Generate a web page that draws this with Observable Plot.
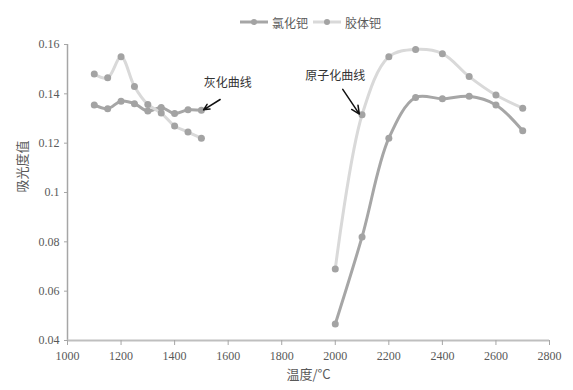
<!DOCTYPE html>
<html><head><meta charset="utf-8">
<script src="https://cdn.jsdelivr.net/npm/d3@7"></script>
<script src="https://cdn.jsdelivr.net/npm/@observablehq/plot@0.6"></script>
<style>
body{margin:0;background:#fff;font-family:"Liberation Serif","Noto Sans CJK SC",serif;}
#wrap{width:573px;position:relative;}
#legend{height:30px;position:relative;}
.item{position:absolute;top:15px;height:14px;display:flex;align-items:center;font-size:12px;color:#595959;font-family:"Noto Sans CJK SC",sans-serif;}
.item svg{margin-right:4px;}
</style></head><body>
<div id="wrap"><div id="legend"></div><div id="chart"></div></div>
<script>
const seriesNames = ["氯化钯", "胶体钯"];
const seriesColors = ["#a6a6a6", "#d9d9d9"];
const markerColor = "#a3a3a3";
const ashTemps = [1100, 1150, 1200, 1250, 1300, 1350, 1400, 1450, 1500];
const ashPdCl2 = [0.1355, 0.134, 0.137, 0.136, 0.133, 0.1345, 0.132, 0.1335, 0.1333];
const ashColloid = [0.148, 0.1465, 0.155, 0.143, 0.1357, 0.1322, 0.127, 0.1245, 0.122];
const atomTemps = [2000, 2100, 2200, 2300, 2400, 2500, 2600, 2700];
const atomPdCl2 = [0.0467, 0.082, 0.122, 0.1385, 0.138, 0.139, 0.1355, 0.125];
const atomColloid = [0.069, 0.1315, 0.155, 0.158, 0.1563, 0.147, 0.1395, 0.1342];
const xTicks = [1000, 1200, 1400, 1600, 1800, 2000, 2200, 2400, 2600, 2800];
const yTicks = [0.04, 0.06, 0.08, 0.1, 0.12, 0.14, 0.16];
const annotations = [
  {text: "灰化曲线", x: 1598, y: 0.1442, x1: 1570, y1: 0.1377, x2: 1508, y2: 0.1335},
  {text: "原子化曲线", x: 2000, y: 0.147, x1: 2028, y1: 0.1418, x2: 2090, y2: 0.1318}
];

const rows = [];
function add(temps, vals, series, seg) {
  temps.forEach((t, i) => rows.push({x: t, y: vals[i], series, seg: series + seg}));
}
add(ashTemps, ashPdCl2, seriesNames[0], "a");
add(atomTemps, atomPdCl2, seriesNames[0], "b");
add(ashTemps, ashColloid, seriesNames[1], "a");
add(atomTemps, atomColloid, seriesNames[1], "b");

// legend
const legend = document.getElementById("legend");
const lefts = [240, 313];
seriesNames.forEach((n, i) => {
  const d = document.createElement("div");
  d.className = "item";
  d.style.left = lefts[i] + "px";
  d.innerHTML = `<svg width="28" height="10"><line x1="0" y1="5" x2="28" y2="5" stroke="${seriesColors[i]}" stroke-width="3"/><circle cx="14" cy="5" r="3" fill="${markerColor}"/></svg><span>${n}</span>`;
  legend.appendChild(d);
});

const fmt = d => String(+d.toFixed(2));
const chart = Plot.plot({
  width: 573,
  height: 360,
  marginTop: 14,
  marginBottom: 50,
  marginLeft: 67,
  marginRight: 24,
  style: {fontFamily: "'Liberation Serif','Noto Sans CJK SC',serif", fontSize: "12px", color: "#595959", background: "#fff"},
  x: {domain: [1000, 2800], ticks: xTicks, tickFormat: d => String(d), tickSize: 5, tickPadding: 5, label: null},
  y: {domain: [0.04, 0.16], ticks: yTicks, tickFormat: fmt, tickSize: 3, tickPadding: 5, label: null},
  marks: [
    Plot.ruleX([1000], {stroke: "#a6a6a6", strokeWidth: 1.5}),
    Plot.ruleY([0.04], {stroke: "#bfbfbf", strokeWidth: 2}),
    Plot.axisX({ticks: xTicks, tickFormat: d => String(d), tickSize: 5, tickPadding: 6, stroke: "#a6a6a6", fill: "#595959", label: null}),
    Plot.axisY({ticks: yTicks, tickFormat: fmt, tickSize: 3, tickPadding: 5, stroke: "#a6a6a6", fill: "#595959", label: null}),
    Plot.line(rows.filter(r => r.series === seriesNames[0]), {x: "x", y: "y", z: "seg", stroke: seriesColors[0], strokeWidth: 3, curve: "catmull-rom"}),
    Plot.line(rows.filter(r => r.series === seriesNames[1]), {x: "x", y: "y", z: "seg", stroke: seriesColors[1], strokeWidth: 3, curve: "catmull-rom"}),
    Plot.dot(rows, {x: "x", y: "y", r: 3.5, fill: markerColor, stroke: null}),
    Plot.arrow(annotations, {x1: "x1", y1: "y1", x2: "x2", y2: "y2", stroke: "#111", strokeWidth: 1.5, headLength: 9, headAngle: 50}),
    Plot.text(annotations, {x: "x", y: "y", text: "text", fill: "#333", fontSize: 12, fontFamily: "'Noto Sans CJK SC',sans-serif"}),
    Plot.text(["温度/°C"], {frameAnchor: "bottom", dy: 38, text: d => d, fill: "#595959", fontSize: 13, fontFamily: "'Noto Sans CJK SC',sans-serif"}),
    Plot.text(["吸光度值"], {frameAnchor: "left", dx: -45, rotate: -90, text: d => d, fill: "#595959", fontSize: 13, fontFamily: "'Noto Sans CJK SC',sans-serif"})
  ]
});
document.getElementById("chart").appendChild(chart);
</script>
</body></html>
